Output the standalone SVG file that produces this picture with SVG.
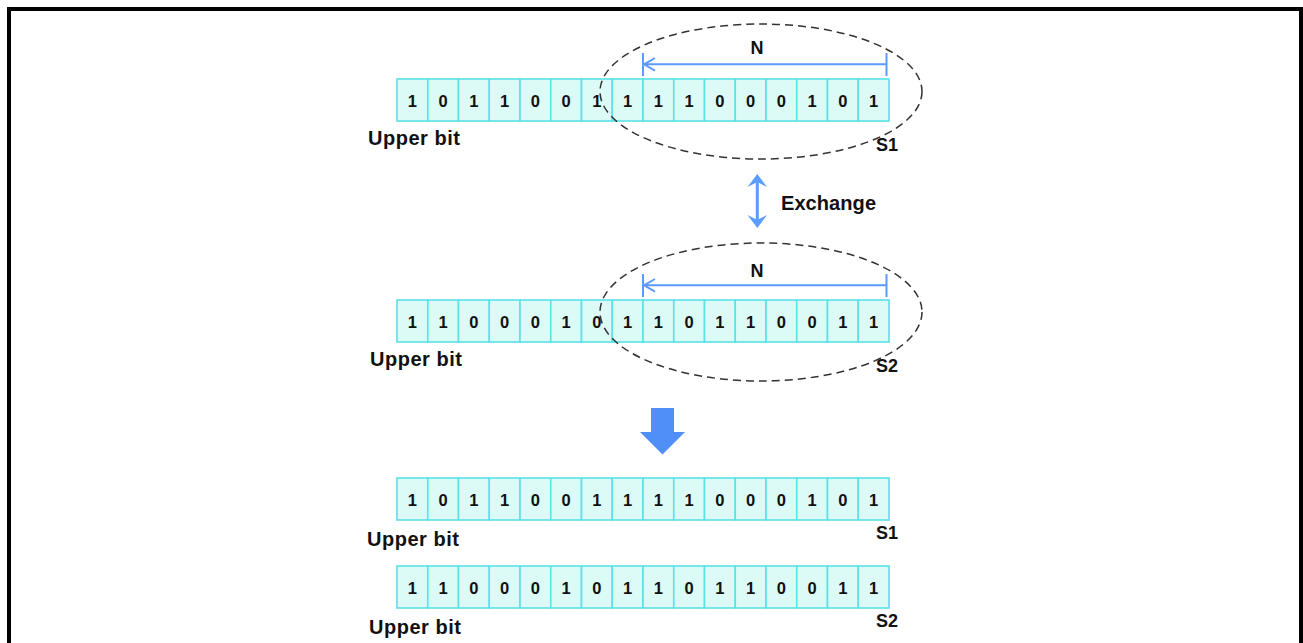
<svg xmlns="http://www.w3.org/2000/svg" xmlns:xlink="http://www.w3.org/1999/xlink" width="1303" height="643" viewBox="0 0 1303 643">
<style>
.cell{fill:#dcfbf7;stroke:#5ae2e8;stroke-width:1.6}
.d{font-family:"Liberation Sans",Arial,sans-serif;font-weight:bold;font-size:16.5px;fill:#111;text-anchor:middle}
.lbl{font-family:"Liberation Sans",Arial,sans-serif;font-weight:bold;font-size:20px;fill:#111}
.s{font-family:"Liberation Sans",Arial,sans-serif;font-weight:bold;font-size:18px;fill:#111}
.ell{fill:none;stroke:#333;stroke-width:1.5;stroke-dasharray:8 5}
.nline{fill:none;stroke:#5b9bff;stroke-width:2}
.blue{fill:#5a9cff}
</style>
<defs>
<g id="cells">
<rect class="cell" x="397" y="0" width="30.75" height="42"/>
<rect class="cell" x="427.75" y="0" width="30.75" height="42"/>
<rect class="cell" x="458.5" y="0" width="30.75" height="42"/>
<rect class="cell" x="489.25" y="0" width="30.75" height="42"/>
<rect class="cell" x="520" y="0" width="30.75" height="42"/>
<rect class="cell" x="550.75" y="0" width="30.75" height="42"/>
<rect class="cell" x="581.5" y="0" width="30.75" height="42"/>
<rect class="cell" x="612.25" y="0" width="30.75" height="42"/>
<rect class="cell" x="643" y="0" width="30.75" height="42"/>
<rect class="cell" x="673.75" y="0" width="30.75" height="42"/>
<rect class="cell" x="704.5" y="0" width="30.75" height="42"/>
<rect class="cell" x="735.25" y="0" width="30.75" height="42"/>
<rect class="cell" x="766" y="0" width="30.75" height="42"/>
<rect class="cell" x="796.75" y="0" width="30.75" height="42"/>
<rect class="cell" x="827.5" y="0" width="30.75" height="42"/>
<rect class="cell" x="858.25" y="0" width="30.75" height="42"/>
</g>
<g id="bitsA">
<text class="d" x="412.4" y="27.7">1</text><text class="d" x="443.1" y="27.7">0</text><text class="d" x="473.9" y="27.7">1</text><text class="d" x="504.6" y="27.7">1</text>
<text class="d" x="535.4" y="27.7">0</text><text class="d" x="566.1" y="27.7">0</text><text class="d" x="596.9" y="27.7">1</text><text class="d" x="627.6" y="27.7">1</text>
<text class="d" x="658.4" y="27.7">1</text><text class="d" x="689.1" y="27.7">1</text><text class="d" x="719.9" y="27.7">0</text><text class="d" x="750.6" y="27.7">0</text>
<text class="d" x="781.4" y="27.7">0</text><text class="d" x="812.1" y="27.7">1</text><text class="d" x="842.9" y="27.7">0</text><text class="d" x="873.6" y="27.7">1</text>
</g>
<g id="bitsB">
<text class="d" x="412.4" y="27.7">1</text><text class="d" x="443.1" y="27.7">1</text><text class="d" x="473.9" y="27.7">0</text><text class="d" x="504.6" y="27.7">0</text>
<text class="d" x="535.4" y="27.7">0</text><text class="d" x="566.1" y="27.7">1</text><text class="d" x="596.9" y="27.7">0</text><text class="d" x="627.6" y="27.7">1</text>
<text class="d" x="658.4" y="27.7">1</text><text class="d" x="689.1" y="27.7">0</text><text class="d" x="719.9" y="27.7">1</text><text class="d" x="750.6" y="27.7">1</text>
<text class="d" x="781.4" y="27.7">0</text><text class="d" x="812.1" y="27.7">0</text><text class="d" x="842.9" y="27.7">1</text><text class="d" x="873.6" y="27.7">1</text>
</g>
</defs>
<rect x="0" y="0" width="1303" height="643" fill="#fff"/>
<path d="M9,643 V9 H1301 V643" fill="none" stroke="#000" stroke-width="4"/>

<g id="row1">
<g transform="translate(0,79)"><use xlink:href="#cells"/><use xlink:href="#bitsA"/></g>
<text class="lbl" x="368" y="145" textLength="92" lengthAdjust="spacing">Upper bit</text>
<text class="s" x="876" y="151">S1</text>
</g>
<g id="row2">
<g transform="translate(0,300)"><use xlink:href="#cells"/><use xlink:href="#bitsB"/></g>
<text class="lbl" x="370" y="366" textLength="92" lengthAdjust="spacing">Upper bit</text>
<text class="s" x="876" y="372">S2</text>
</g>
<g id="row3">
<g transform="translate(0,478)"><use xlink:href="#cells"/><use xlink:href="#bitsA"/></g>
<text class="lbl" x="367" y="546" textLength="92" lengthAdjust="spacing">Upper bit</text>
<text class="s" x="876" y="539">S1</text>
</g>
<g id="row4">
<g transform="translate(0,566)"><use xlink:href="#cells"/><use xlink:href="#bitsB"/></g>
<text class="lbl" x="369" y="634" textLength="92" lengthAdjust="spacing">Upper bit</text>
<text class="s" x="876" y="627">S2</text>
</g>

<g id="selection1">
<ellipse class="ell" cx="761" cy="91.5" rx="161" ry="67.5"/>
</g>
<g id="selection2">
<ellipse class="ell" cx="761" cy="312" rx="161" ry="69"/>
</g>

<g id="connectors">
<g id="n1">
<path class="nline" d="M643,64.3 H886.5 M643,53 V76 M886.5,53 V76 M655,58 L644,64.3 L655,70.6"/>
<text class="s" x="757" y="54" text-anchor="middle" font-size="17">N</text>
</g>
<g id="n2">
<path class="nline" d="M643,285.3 H886.5 M643,274 V297 M886.5,274 V297 M655,279 L644,285.3 L655,291.6"/>
<text class="s" x="757" y="277" text-anchor="middle" font-size="17">N</text>
</g>
<g id="exchange">
<path d="M757.3,181 V221" stroke="#5a9cff" stroke-width="3" fill="none"/>
<polygon class="blue" points="757.3,174 747.5,187 757.3,182 767,187"/>
<polygon class="blue" points="757.3,228 747.5,215 757.3,220 767,215"/>
<text class="lbl" x="781" y="210" font-size="19" textLength="95" lengthAdjust="spacing">Exchange</text>
</g>
<g id="down-arrow">
<polygon points="651,408 674,408 674,432 685,432 662.5,454.5 640,432 651,432" fill="#4f8ff7"/>
</g>
</g>
</svg>
